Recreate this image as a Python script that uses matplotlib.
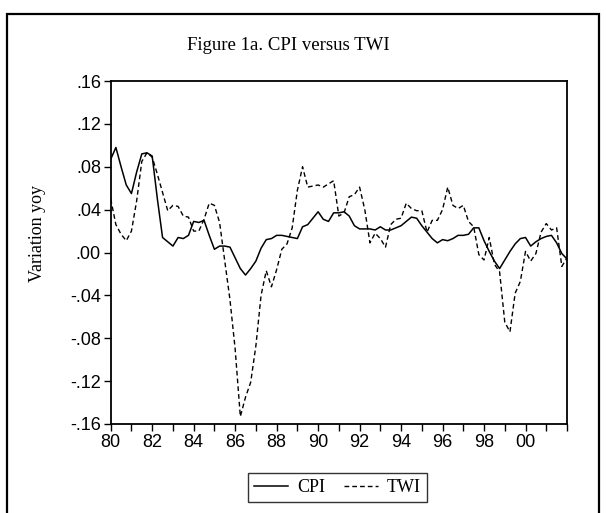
import matplotlib
matplotlib.use("Agg")
import matplotlib.pyplot as plt
import numpy as np
from matplotlib.patches import Rectangle
from matplotlib.ticker import FixedLocator, FuncFormatter

plt.rcParams['lines.scale_dashes'] = False

# Quarterly observations 1980Q1 .. 2002Q1
start_year = 1980
cpi = [0.087, 0.098, 0.080, 0.063, 0.055, 0.075, 0.092, 0.093,
       0.090, 0.050, 0.014, 0.010, 0.006, 0.014, 0.013, 0.016,
       0.029, 0.028, 0.030, 0.016, 0.003, 0.006, 0.006, 0.005,
       -0.005, -0.015, -0.021, -0.015, -0.008, 0.004, 0.012, 0.013,
       0.016, 0.016, 0.015, 0.014, 0.013, 0.024, 0.026, 0.032,
       0.038, 0.031, 0.029, 0.037, 0.037, 0.038, 0.034, 0.025,
       0.022, 0.022, 0.022, 0.021, 0.024, 0.021, 0.021, 0.023,
       0.025, 0.029, 0.033, 0.032, 0.025, 0.019, 0.013, 0.009,
       0.012, 0.011, 0.013, 0.016, 0.016, 0.017, 0.023, 0.023,
       0.011, 0.001, -0.008, -0.015, -0.007, 0.001, 0.008, 0.013,
       0.014, 0.006, 0.010, 0.013, 0.015, 0.016, 0.009, -0.001,
       -0.006]
twi = [0.050, 0.026, 0.017, 0.011, 0.020, 0.048, 0.085, 0.093,
       0.089, 0.073, 0.056, 0.039, 0.044, 0.043, 0.034, 0.033,
       0.020, 0.020, 0.031, 0.046, 0.044, 0.028, -0.008, -0.044,
       -0.090, -0.153, -0.135, -0.121, -0.087, -0.040, -0.017, -0.032,
       -0.016, 0.003, 0.008, 0.023, 0.058, 0.080, 0.061, 0.062,
       0.063, 0.061, 0.064, 0.067, 0.034, 0.037, 0.052, 0.054,
       0.061, 0.040, 0.009, 0.018, 0.013, 0.005, 0.026, 0.031,
       0.032, 0.046, 0.041, 0.039, 0.039, 0.019, 0.030, 0.030,
       0.040, 0.061, 0.044, 0.041, 0.044, 0.029, 0.024, -0.002,
       -0.007, 0.014, -0.011, -0.018, -0.065, -0.074, -0.038, -0.027,
       0.001, -0.008, -0.001, 0.019, 0.027, 0.021, 0.023, -0.013,
       -0.005]
ytick_values = [0.16, 0.12, 0.08, 0.04, 0.00, -0.04, -0.08, -0.12, -0.16]
xtick_labels = ['80', '82', '84', '86', '88', '90', '92', '94', '96', '98', '00']

t = start_year + np.arange(len(cpi)) / 4.0

W, H = 606, 513
fig = plt.figure(figsize=(W / 100, H / 100), dpi=100)
fig.patch.set_facecolor('white')

# outer frame
fig.patches.append(Rectangle((7 / W, -0.2), (599 - 7) / W, 1.2 - 14 / H,
                             transform=fig.transFigure, fill=False,
                             edgecolor='black', linewidth=1.6))

left, right, top, bottom = 110.7, 567, 81, 424
ax = fig.add_axes([left / W, 1 - bottom / H, (right - left) / W, (bottom - top) / H])

ax.plot(t, cpi, color='black', linewidth=1.1, label='CPI')
ax.plot(t, twi, color='black', linewidth=1.0, dashes=(3.4, 2.2), label='TWI')

ax.set_xlim(1980, 2002)
ax.set_ylim(-0.16, 0.16)

ax.xaxis.set_major_locator(FixedLocator(np.arange(1980, 2003, 1)))
def xfmt(v, pos):
    y = int(round(v))
    if y % 2 == 0 and y <= 2000:
        return xtick_labels[(y - 1980) // 2]
    return ''
ax.xaxis.set_major_formatter(FuncFormatter(xfmt))
ax.yaxis.set_major_locator(FixedLocator(ytick_values))
def yfmt(v, pos):
    s = '%.2f' % v
    s = s.replace('0.', '.')
    if s == '-.00':
        s = '.00'
    return s
ax.yaxis.set_major_formatter(FuncFormatter(yfmt))

for sp in ax.spines.values():
    sp.set_linewidth(1.3)
ax.tick_params(direction='out', length=5, width=1, colors='black',
               labelsize=13, pad=2)
for lab in ax.get_xticklabels() + ax.get_yticklabels():
    lab.set_family('Liberation Sans')

fig.text(288 / W, 1 - 46 / H, 'Figure 1a. CPI versus TWI', ha='center', va='center',
         family='Liberation Serif', fontsize=13.5)
fig.text(37 / W, 1 - 234 / H, 'Variation yoy', ha='center', va='center', rotation=90,
         family='Liberation Serif', fontsize=13)

leg = ax.legend(loc='center', bbox_to_anchor=(337.5 / W, 1 - 487.5 / H),
                bbox_transform=fig.transFigure, ncol=2, frameon=True, fancybox=False,
                edgecolor='black', prop={'family': 'Liberation Serif', 'size': 13},
                handlelength=1.9, handletextpad=0.5, columnspacing=1.0,
                borderpad=0.35, borderaxespad=0)
leg.get_frame().set_linewidth(1.0)

fig.savefig('out.png', dpi=100, facecolor='white')
